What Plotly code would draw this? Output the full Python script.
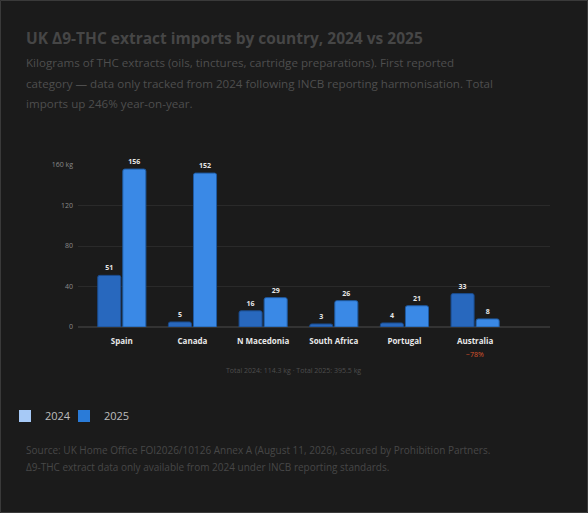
"""UK delta-9-THC extract imports by country, 2024 vs 2025 — grouped bar chart."""

import plotly.graph_objects as go

COUNTRIES = ["Spain", "Canada", "N Macedonia", "South Africa", "Portugal", "Australia"]
KG_2024 = [51, 5, 16, 3, 4, 33]
KG_2025 = [156, 152, 29, 26, 21, 8]
Y_TICKS = [0, 40, 80, 120, 160]
Y_TICK_TEXT = ["0", "40", "80", "120", "160 kg"]

TITLE = "<b>UK Δ9-THC extract imports by country, 2024 vs 2025</b>"
SUBTITLE = [
    "Kilograms of THC extracts (oils, tinctures, cartridge preparations). First reported",
    "category — data only tracked from 2024 following INCB reporting harmonisation. Total",
    "imports up 246% year-on-year.",
]
SOURCE = [
    "Source: UK Home Office FOI2026/10126 Annex A (August 11, 2026), secured by Prohibition Partners.",
    "Δ9-THC extract data only available from 2024 under INCB reporting standards.",
]

W, H = 588, 513
ML, MR, MT, MB = 78, 38, 165, 186
PW, PH = W - ML - MR, H - MT - MB

FONT = "Open Sans, Noto Sans, sans-serif"
BG = "#1b1b1b"


def px(x, y):
    """Page pixel -> paper coords."""
    return (x - ML) / PW, 1 - (y - MT) / PH


def note(x, y, text, size, color):
    xp, yp = px(x, y)
    fig.add_annotation(x=xp, y=yp, xref="paper", yref="paper", xanchor="left", yanchor="middle",
                       showarrow=False, text=text, align="left",
                       font=dict(size=size, color=color))


fig = go.Figure()
fig.add_trace(go.Bar(
    x=COUNTRIES, y=KG_2024, name="2024", showlegend=False,
    marker=dict(color="#2868be", line=dict(color="#1a4a8a", width=1), cornerradius=2),
    text=KG_2024, textposition="outside", cliponaxis=False,
    textfont=dict(size=7, color="#e6e6e6", family=FONT, weight="bold"),
))
fig.add_trace(go.Bar(
    x=COUNTRIES, y=KG_2025, name="2025", showlegend=False,
    marker=dict(color="#3a89e6", line=dict(color="#1f5aa0", width=1), cornerradius=2),
    text=KG_2025, textposition="outside", cliponaxis=False,
    textfont=dict(size=7, color="#e6e6e6", family=FONT, weight="bold"),
))
# legend entries (colours as shown in the card legend); last one only pads the legend box
fig.add_trace(go.Scatter(x=[None], y=[None], name="2024", mode="markers",
                         marker=dict(symbol="square", size=12, color="#a6c9f6")))
fig.add_trace(go.Scatter(x=[None], y=[None], name="2025", mode="markers",
                         marker=dict(symbol="square", size=12, color="#2a7bd8")))
fig.add_trace(go.Scatter(x=[None], y=[None], name=" ", mode="markers",
                         marker=dict(symbol="square", size=12, color="rgba(0,0,0,0)")))

note(24, 38, TITLE, 15.5, "#464646")
for i, line in enumerate(SUBTITLE):
    note(24, 63 + 20 * i, line, 11.6, "#4e4e4e")
for i, line in enumerate(SOURCE):
    note(24, 450 + 17 * i, line, 10, "#474747")

_, y = px(0, 361)
fig.add_annotation(x="Australia", xref="x", y=y, yref="paper", text="−78%", showarrow=False,
                   font=dict(size=7, color="#d9542e"))
x, y = px(293, 377)
fig.add_annotation(x=x, xref="paper", y=y, yref="paper", showarrow=False,
                   text="Total 2024: 114.3 kg · Total 2025: 395.5 kg",
                   font=dict(size=7, color="#4e4e4e"))

# card border
x0, y0 = px(0.5, 0.5)
x1, y1 = px(W - 0.5, H - 0.5)
fig.add_shape(type="rect", xref="paper", yref="paper", x0=x0, y0=y0, x1=x1, y1=y1,
              line=dict(color="#3a3a3a", width=1), layer="below")

lx, ly = px(5, 416)
fig.update_layout(
    width=W, height=H,
    margin=dict(l=ML, r=MR, t=MT, b=MB, autoexpand=False),
    paper_bgcolor=BG, plot_bgcolor=BG,
    font=dict(family=FONT, color="#bbbbbb"),
    barmode="group", bargap=0.29, bargroupgap=0.08,
    showlegend=True,
    legend=dict(orientation="h", x=lx, y=ly, xanchor="left", yanchor="middle",
                font=dict(size=11, color="#bdbdbd"), bgcolor="rgba(0,0,0,0)",
                entrywidth=14, entrywidthmode="pixels", traceorder="normal"),
    xaxis=dict(range=[-0.62, 6.06], showgrid=False, zeroline=False, showline=False,
               ticks="", ticklabelstandoff=8,
               tickfont=dict(size=8, color="#e8e8e8", weight="bold")),
    yaxis=dict(range=[0, 160], tickvals=Y_TICKS, ticktext=Y_TICK_TEXT,
               gridcolor="#2a2a2a", gridwidth=1, zeroline=True, zerolinecolor="#333333",
               zerolinewidth=1.5, showline=False, ticks="", ticklabelstandoff=4,
               tickfont=dict(size=7, color="#8a8a8a")),
)

fig.write_html(
    "out.html", config={"displayModeBar": False},
    post_script=(
        "document.body.style.margin='0';"
        "document.body.style.background='#1b1b1b';"
        "var gd=document.getElementById('{plot_id}');"
        "gd.style.position='fixed';gd.style.left='0';gd.style.top='0';"
    ),
)
